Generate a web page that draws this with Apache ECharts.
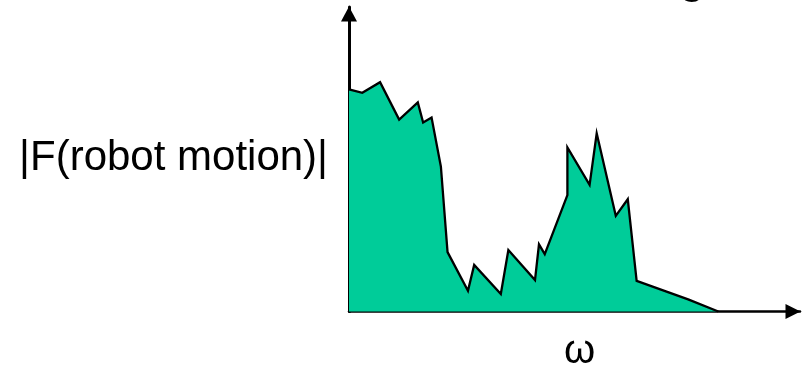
<!DOCTYPE html>
<html>
<head>
<meta charset="utf-8">
<script src="https://cdn.jsdelivr.net/npm/echarts@6/dist/echarts.min.js"></script>
<style>html,body{margin:0;padding:0;background:#fff}#c{width:802px;height:367px}</style>
</head>
<body>
<div id="c"></div>
<script>
// spectrum outline (arbitrary units)
var omega = [0, 3.0, 7.0, 11.3, 15.5, 16.7, 18.6, 20.7, 22.2, 26.8, 28.2, 34.2, 35.9, 41.9, 42.8, 44.1, 49.2, 49.2, 54.2, 55.8, 60.1, 62.8, 64.8, 76.4, 83.2];
var magnitude = [74.8, 73.6, 77.2, 64.6, 70.4, 63.6, 65.3, 48.8, 20.0, 7.0, 15.7, 5.9, 20.7, 10.6, 22.6, 19.3, 39.2, 55.2, 42.6, 60.0, 32.2, 37.8, 10.3, 4.1, 0];
var yLabel = '|F(robot motion)|';
var xLabel = 'ω';
var titleFragment = 'g';

var pts = omega.map(function (x, i) { return [x, magnitude[i]]; });
var font = '"Liberation Sans", Arial, sans-serif';
var chart = echarts.init(document.getElementById('c'), null, {renderer: 'canvas'});
chart.setOption({
  animation: false,
  grid: {left: 349, right: 2, top: 7, bottom: 55.5, containLabel: false},
  xAxis: {
    type: 'value', min: 0, max: 101.6,
    axisLine: {show: true, symbol: ['none', 'triangle'], symbolSize: [15, 15], symbolOffset: [0, -7], lineStyle: {color: '#000', width: 2.5}},
    axisTick: {show: false}, axisLabel: {show: false}, splitLine: {show: false}
  },
  yAxis: {
    type: 'value', min: 0, max: 102.5,
    axisLine: {show: true, symbol: ['none', 'triangle'], symbolSize: [16, 15], symbolOffset: [0, -7], lineStyle: {color: '#000', width: 3}},
    axisTick: {show: false}, axisLabel: {show: false}, splitLine: {show: false}
  },
  series: [{
    type: 'line', data: pts, showSymbol: false, symbol: 'none', z: 1,
    lineStyle: {color: '#000', width: 2.3, join: 'miter'},
    areaStyle: {color: '#00CC99', opacity: 1}
  }],
  graphic: [
    {type: 'text', right: 474, top: 137, style: {text: yLabel, font: '42px ' + font, fill: '#000'}},
    {type: 'text', left: 564, top: 332, style: {text: xLabel, font: '40px ' + font, fill: '#000'}},
    {type: 'text', left: 680, top: -37, style: {text: titleFragment, font: 'bold 40px ' + font, fill: '#000'}}
  ]
});
</script>
</body>
</html>
